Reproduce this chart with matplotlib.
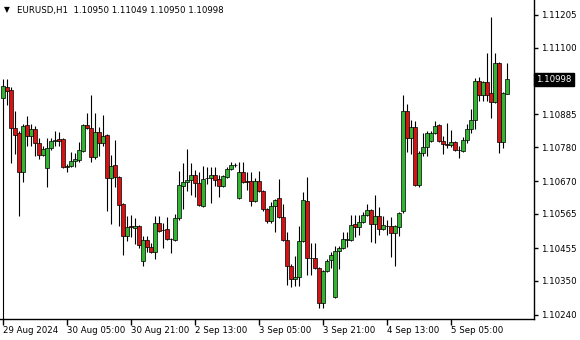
import matplotlib
matplotlib.use("Agg")
import matplotlib.pyplot as plt
import matplotlib.transforms as mtransforms

# EURUSD H1 candles
opens = [1.10937, 1.10972, 1.10962, 1.10840, 1.10824, 1.10699, 1.10850, 1.10815, 1.10837, 1.10792,
         1.10754, 1.10712, 1.10776, 1.10799, 1.10805, 1.10805, 1.10715, 1.10718, 1.10734, 1.10738,
         1.10766, 1.10850, 1.10840, 1.10747, 1.10827, 1.10792, 1.10818, 1.10680, 1.10722, 1.10683,
         1.10596, 1.10494, 1.10526, 1.10519, 1.10526, 1.10413, 1.10481, 1.10458, 1.10442, 1.10535,
         1.10513, 1.10516, 1.10484, 1.10481, 1.10551, 1.10654, 1.10667, 1.10673, 1.10689, 1.10664,
         1.10590, 1.10680, 1.10680, 1.10689, 1.10677, 1.10654, 1.10683, 1.10709, 1.10722, 1.10616,
         1.10699, 1.10670, 1.10670, 1.10606, 1.10670, 1.10638, 1.10580, 1.10542, 1.10590, 1.10616,
         1.10555, 1.10481, 1.10397, 1.10356, 1.10362, 1.10478, 1.10606, 1.10423, 1.10423, 1.10391,
         1.10279, 1.10381, 1.10417, 1.10298, 1.10445, 1.10455, 1.10481, 1.10481, 1.10532, 1.10522,
         1.10539, 1.10561, 1.10577, 1.10532, 1.10558, 1.10516, 1.10526, 1.10526, 1.10503, 1.10522,
         1.10574, 1.10895, 1.10808, 1.10843, 1.10657, 1.10760, 1.10779, 1.10799, 1.10824, 1.10850,
         1.10799, 1.10789, 1.10786, 1.10795, 1.10770, 1.10766, 1.10802, 1.10837, 1.10866, 1.10991,
         1.10949, 1.10988, 1.10953, 1.10924, 1.11049, 1.10795, 1.10950]
highs = [1.10998, 1.10998, 1.10972, 1.10895, 1.10831, 1.10853, 1.10879, 1.10853, 1.10847, 1.10808,
         1.10782, 1.10808, 1.10808, 1.10831, 1.10827, 1.10808, 1.10725, 1.10763, 1.10760, 1.10795,
         1.10853, 1.10888, 1.10949, 1.10888, 1.10843, 1.10882, 1.10821, 1.10754, 1.10802, 1.10686,
         1.10600, 1.10558, 1.10561, 1.10551, 1.10529, 1.10494, 1.10494, 1.10471, 1.10558, 1.10558,
         1.10535, 1.10555, 1.10487, 1.10564, 1.10702, 1.10728, 1.10773, 1.10728, 1.10705, 1.10699,
         1.10718, 1.10715, 1.10715, 1.10715, 1.10689, 1.10689, 1.10715, 1.10731, 1.10728, 1.10731,
         1.10731, 1.10699, 1.10699, 1.10680, 1.10702, 1.10641, 1.10583, 1.10603, 1.10612, 1.10677,
         1.10596, 1.10506, 1.10404, 1.10429, 1.10526, 1.10635, 1.10683, 1.10471, 1.10471, 1.10394,
         1.10384, 1.10420, 1.10442, 1.10461, 1.10461, 1.10506, 1.10506, 1.10561, 1.10561, 1.10561,
         1.10571, 1.10596, 1.10580, 1.10625, 1.10587, 1.10558, 1.10545, 1.10555, 1.10529, 1.10571,
         1.10949, 1.10917, 1.10866, 1.10863, 1.10766, 1.10824, 1.10831, 1.10831, 1.10863, 1.10853,
         1.10815, 1.10856, 1.10834, 1.10799, 1.10782, 1.10811, 1.10853, 1.10901, 1.11001, 1.11004,
         1.10991, 1.11081, 1.11197, 1.11084, 1.11052, 1.10956, 1.11049]
lows = [1.10200, 1.10914, 1.10728, 1.10757, 1.10558, 1.10667, 1.10782, 1.10782, 1.10750, 1.10741,
        1.10750, 1.10651, 1.10770, 1.10782, 1.10782, 1.10712, 1.10699, 1.10715, 1.10715, 1.10731,
        1.10763, 1.10837, 1.10731, 1.10741, 1.10750, 1.10782, 1.10574, 1.10532, 1.10651, 1.10526,
        1.10433, 1.10478, 1.10490, 1.10468, 1.10455, 1.10397, 1.10442, 1.10439, 1.10420, 1.10506,
        1.10455, 1.10481, 1.10439, 1.10478, 1.10545, 1.10580, 1.10638, 1.10625, 1.10619, 1.10590,
        1.10587, 1.10661, 1.10600, 1.10654, 1.10619, 1.10651, 1.10680, 1.10705, 1.10715, 1.10612,
        1.10664, 1.10641, 1.10590, 1.10603, 1.10635, 1.10574, 1.10535, 1.10535, 1.10506, 1.10551,
        1.10478, 1.10336, 1.10330, 1.10333, 1.10333, 1.10474, 1.10368, 1.10368, 1.10388, 1.10262,
        1.10262, 1.10378, 1.10391, 1.10295, 1.10388, 1.10452, 1.10458, 1.10478, 1.10490, 1.10497,
        1.10535, 1.10558, 1.10474, 1.10471, 1.10497, 1.10513, 1.10497, 1.10426, 1.10397, 1.10494,
        1.10567, 1.10763, 1.10757, 1.10654, 1.10651, 1.10750, 1.10750, 1.10795, 1.10821, 1.10795,
        1.10757, 1.10776, 1.10779, 1.10766, 1.10744, 1.10763, 1.10792, 1.10824, 1.10837, 1.10927,
        1.10927, 1.10927, 1.10872, 1.10921, 1.10760, 1.10776, 1.10950]
closes = [1.10975, 1.10959, 1.10840, 1.10818, 1.10699, 1.10847, 1.10815, 1.10837, 1.10792, 1.10754,
          1.10773, 1.10776, 1.10799, 1.10802, 1.10799, 1.10715, 1.10718, 1.10734, 1.10741, 1.10770,
          1.10850, 1.10840, 1.10747, 1.10827, 1.10792, 1.10815, 1.10680, 1.10718, 1.10683, 1.10593,
          1.10494, 1.10522, 1.10522, 1.10526, 1.10465, 1.10481, 1.10458, 1.10442, 1.10535, 1.10510,
          1.10512, 1.10484, 1.10483, 1.10551, 1.10657, 1.10667, 1.10673, 1.10689, 1.10664, 1.10593,
          1.10677, 1.10679, 1.10689, 1.10673, 1.10654, 1.10686, 1.10709, 1.10722, 1.10721, 1.10699,
          1.10667, 1.10669, 1.10606, 1.10670, 1.10638, 1.10580, 1.10542, 1.10590, 1.10609, 1.10555,
          1.10481, 1.10397, 1.10356, 1.10362, 1.10478, 1.10609, 1.10423, 1.10422, 1.10391, 1.10279,
          1.10381, 1.10413, 1.10433, 1.10445, 1.10455, 1.10484, 1.10484, 1.10529, 1.10522, 1.10539,
          1.10561, 1.10577, 1.10532, 1.10558, 1.10516, 1.10529, 1.10525, 1.10503, 1.10526, 1.10567,
          1.10895, 1.10808, 1.10843, 1.10657, 1.10760, 1.10779, 1.10824, 1.10824, 1.10847, 1.10799,
          1.10789, 1.10788, 1.10795, 1.10770, 1.10769, 1.10802, 1.10837, 1.10866, 1.10991, 1.10946,
          1.10988, 1.10949, 1.10924, 1.11049, 1.10795, 1.10953, 1.10998]

time_labels = ["29 Aug 2024", "30 Aug 05:00", "30 Aug 21:00", "2 Sep 13:00",
               "3 Sep 05:00", "3 Sep 21:00", "4 Sep 13:00", "5 Sep 05:00"]
time_label_bars = [0, 16, 32, 48, 64, 80, 96, 112]
price_ticks = [1.11205, 1.11100, 1.10885, 1.10780, 1.10670, 1.10565, 1.10455, 1.10350, 1.10240]
last_price = 1.10998

bull = "#32b432"
bear = "#d41414"
fs = 6.2

fig = plt.figure(figsize=(5.8, 3.4), dpi=100)
ax = fig.add_axes([0, 21 / 340, 534 / 580, 319 / 340])

x = list(range(len(opens)))
body_bottom = [min(o, c) for o, c in zip(opens, closes)]
body_height = [abs(c - o) for o, c in zip(opens, closes)]
colors = [bull if c >= o else bear for o, c in zip(opens, closes)]

ax.vlines(x, lows, highs, color="black", linewidth=0.8, zorder=1)
ax.bar(x, body_height, bottom=body_bottom, width=0.8, color=colors,
       edgecolor="black", linewidth=0.5, zorder=2)

ax.set_xlim(-0.75, 132.75)
ax.set_ylim(1.10227, 1.11253)

for s in ["top", "left"]:
    ax.spines[s].set_visible(False)
for s in ["right", "bottom"]:
    ax.spines[s].set_linewidth(1)

ax.yaxis.tick_right()
ax.set_yticks(price_ticks)
ax.set_yticklabels(["%.5f" % p for p in price_ticks])
ax.tick_params(axis="y", direction="out", length=3, width=1, labelsize=fs, pad=2)

ax.set_xticks(time_label_bars)
ax.set_xticklabels(time_labels, ha="left")
ax.tick_params(axis="x", direction="out", length=4, width=1, labelsize=fs, pad=1)

# current price box on the price scale
trans = mtransforms.blended_transform_factory(ax.transAxes, ax.transData)
ax.text(1.004, last_price, "%.5f" % last_price, transform=trans, color="white",
        fontsize=fs, va="center", ha="left", clip_on=False,
        bbox=dict(boxstyle="square,pad=0.25", facecolor="black", edgecolor="black"))

# header line
fig.text(4 / 580, 1 - 10 / 340, "\u25bc", fontsize=5.5, va="center", ha="left")
fig.text(17 / 580, 1 - 10 / 340,
         "EURUSD,H1  %.5f %.5f %.5f %.5f" % (opens[-1], highs[-1], lows[-1], closes[-1]),
         fontsize=fs, va="center", ha="left")

fig.savefig("out.png", dpi=100)
